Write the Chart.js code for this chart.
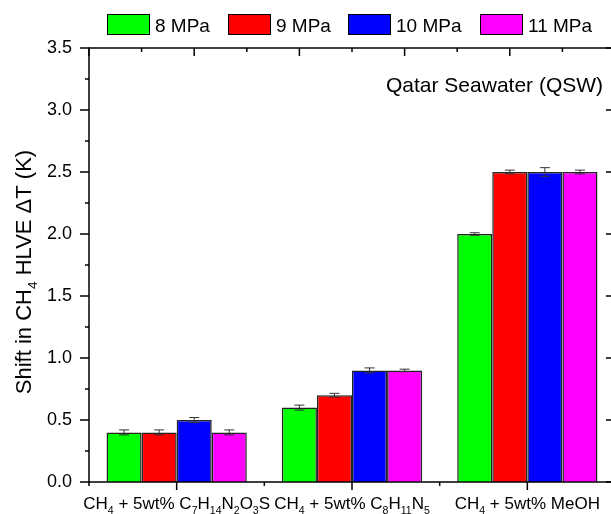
<!DOCTYPE html>
<html>
<head>
<meta charset="utf-8">
<script src="https://cdn.jsdelivr.net/npm/chart.js@4/dist/chart.umd.min.js"></script>
<style>
html,body{margin:0;padding:0;background:#fff;overflow:hidden;width:611px;height:514px;}
#wrap{position:absolute;left:0;top:0;width:622px;height:514px;}
</style>
</head>
<body>
<div id="wrap"><canvas id="c" width="622" height="514"></canvas></div>
<script>
// ---- data ----
const categories = ['CH_4 + 5wt% C_7H_14N_2O_3S', 'CH_4 + 5wt% C_8H_11N_5', 'CH_4 + 5wt% MeOH'];
const seriesNames = ['8 MPa', '9 MPa', '10 MPa', '11 MPa'];
const values8  = [0.40, 0.60, 2.00];
const values9  = [0.40, 0.70, 2.50];
const values10 = [0.50, 0.90, 2.50];
const values11 = [0.40, 0.90, 2.50];
const err8  = [0.02, 0.02, 0.01];
const err9  = [0.02, 0.015, 0.015];
const err10 = [0.02, 0.02, 0.035];
const err11 = [0.02, 0.01, 0.015];
const yTicks = [0.0, 0.5, 1.0, 1.5, 2.0, 2.5, 3.0, 3.5];
const yTitle = 'Shift in CH_4 HLVE \u0394T (K)';
const annotation = 'Qatar Seawater (QSW)';

const colors = ['#00ff00', '#ff0000', '#0000ff', '#ff00ff'];
const FONT = '"Liberation Sans", Arial, sans-serif';
const values = [values8, values9, values10, values11];
const errs = [err8, err9, err10, err11];

function parseSub(s){
  const parts = [];
  const re = /_(\d+)/g; let last = 0, m;
  while((m = re.exec(s))){
    if(m.index > last) parts.push([s.slice(last, m.index), 0]);
    parts.push([m[1], 1]); last = re.lastIndex;
  }
  if(last < s.length) parts.push([s.slice(last), 0]);
  return parts;
}
function subWidth(ctx, parts, size){
  let w = 0;
  parts.forEach(p => { ctx.font = (p[1] ? size*0.62 : size) + 'px ' + FONT; w += ctx.measureText(p[0]).width; });
  return w;
}
function drawSub(ctx, s, x, y, size, align){
  const parts = parseSub(s);
  const w = subWidth(ctx, parts, size);
  let cx = align === 'center' ? x - w/2 : x;
  ctx.textBaseline = 'alphabetic'; ctx.textAlign = 'left'; ctx.fillStyle = '#000';
  parts.forEach(p => {
    const fs = p[1] ? size*0.62 : size;
    ctx.font = fs + 'px ' + FONT;
    ctx.fillText(p[0], cx, y + (p[1] ? size*0.28 : 0));
    cx += ctx.measureText(p[0]).width;
  });
}

const decor = {
  id: 'decor',
  afterDatasetsDraw(chart){
    const ctx = chart.ctx, ca = chart.chartArea;
    const xs = chart.scales.x, ys = chart.scales.y;
    ctx.save();
    // error bars
    chart.data.datasets.forEach((ds, di) => {
      const meta = chart.getDatasetMeta(di);
      meta.data.forEach((bar, i) => {
        const v = ds.data[i], e = errs[di][i];
        const y1 = ys.getPixelForValue(v + e), y2 = ys.getPixelForValue(v - e);
        ctx.strokeStyle = '#333'; ctx.lineWidth = 1;
        ctx.beginPath();
        ctx.moveTo(bar.x, y1); ctx.lineTo(bar.x, y2);
        ctx.moveTo(bar.x - 5, y1); ctx.lineTo(bar.x + 5, y1);
        ctx.moveTo(bar.x - 5, y2); ctx.lineTo(bar.x + 5, y2);
        ctx.stroke();
      });
    });
    // frame
    ctx.strokeStyle = '#000'; ctx.lineWidth = 1.5;
    ctx.strokeRect(ca.left, ca.top, ca.right - ca.left, ca.bottom - ca.top);
    ctx.beginPath();
    // left & right y ticks
    for(let v = 0; v <= 3.5001; v += 0.25){
      const y = ys.getPixelForValue(v);
      const major = Math.abs(v*2 - Math.round(v*2)) < 1e-6;
      const L = major ? 9 : 4;
      ctx.moveTo(ca.left, y); ctx.lineTo(ca.left - L, y);
      ctx.moveTo(ca.right, y); ctx.lineTo(ca.right - L, y);
    }
    // bottom ticks
    const n = categories.length;
    const cw = (ca.right - ca.left) / n;
    for(let i = 0; i <= n; i++){
      const xb = ca.left + i*cw;
      ctx.moveTo(xb, ca.bottom); ctx.lineTo(xb, ca.bottom + 4);
      if(i < n){ const xc = xs.getPixelForValue(i); ctx.moveTo(xc, ca.bottom); ctx.lineTo(xc, ca.bottom + 8); }
    }
    // top ticks
    const tw = (ca.right - ca.left) / 10;
    for(let i = 0; i <= 10; i++){
      const xt = ca.left + i*tw;
      ctx.moveTo(xt, ca.top); ctx.lineTo(xt, ca.top + (i % 2 === 0 ? 8 : 4));
    }
    ctx.stroke();
    // x labels
    categories.forEach((c, i) => drawSub(ctx, c, xs.getPixelForValue(i), 509, 17, 'center'));
    // y title
    ctx.save();
    ctx.translate(31, 272);
    ctx.rotate(-Math.PI/2);
    drawSub(ctx, yTitle, 0, 0, 22, 'center');
    ctx.restore();
    // annotation
    ctx.font = '21px ' + FONT; ctx.fillStyle = '#000'; ctx.textAlign = 'left'; ctx.textBaseline = 'alphabetic';
    ctx.fillText(annotation, 386, 92);
    // legend
    const lx = [107, 228, 348, 480];
    seriesNames.forEach((nm, i) => {
      ctx.fillStyle = colors[i];
      ctx.fillRect(lx[i], 14, 43, 21);
      ctx.strokeStyle = '#000'; ctx.lineWidth = 1;
      ctx.strokeRect(lx[i] + 0.5, 14.5, 42, 20);
      ctx.fillStyle = '#000'; ctx.font = '19px ' + FONT;
      ctx.fillText(nm, lx[i] + 48, 32);
    });
    ctx.restore();
  }
};

new Chart(document.getElementById('c'), {
  type: 'bar',
  data: {
    labels: categories,
    datasets: seriesNames.map((nm, i) => ({
      label: nm, data: values[i], backgroundColor: colors[i],
      borderColor: '#222', borderWidth: 1.5,
      categoryPercentage: 0.8, barPercentage: 1.0
    }))
  },
  options: {
    responsive: false, animation: false, devicePixelRatio: 1,
    layout: { padding: { left: 0, right: 7, top: 48, bottom: 0 } },
    plugins: { legend: { display: false }, tooltip: { enabled: false } },
    scales: {
      x: {
        grid: { display: false }, border: { display: false },
        ticks: { display: false },
        afterFit(s){ s.height = 32; }
      },
      y: {
        min: 0, max: 3.5,
        afterBuildTicks(s){ s.ticks = yTicks.map(v => ({ value: v })); },
        grid: { display: false, drawTicks: false }, border: { display: false },
        ticks: { font: { size: 18, family: FONT }, color: '#000', padding: 17,
                 callback: v => Number(v).toFixed(1) },
        afterFit(s){ s.width = 89; }
      }
    }
  },
  plugins: [decor]
});
</script>
</body>
</html>
